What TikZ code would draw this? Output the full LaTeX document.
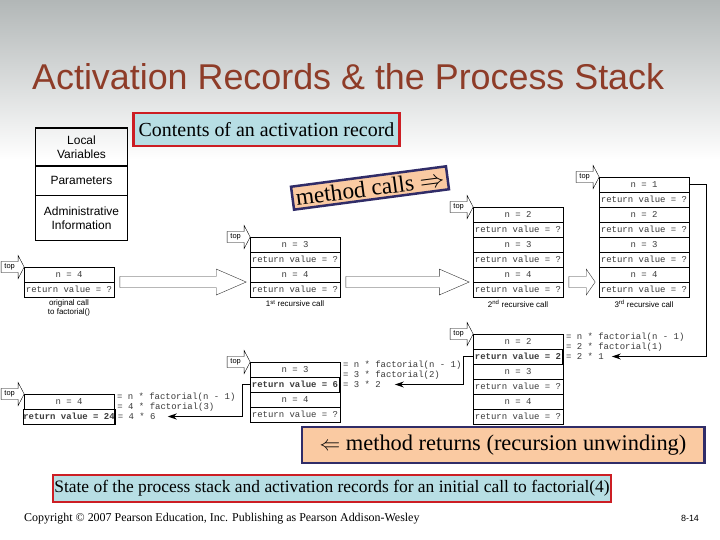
\documentclass[tikz,border=0pt]{standalone}
\usepackage{fontspec}
\setmainfont{Liberation Serif}
\setsansfont{Liberation Sans}
\setmonofont{Liberation Mono}
\usetikzlibrary{positioning,arrows.meta,calc}
\definecolor{Title}{RGB}{142,60,40}
\definecolor{Red}{RGB}{204,30,36}
\definecolor{Sky}{RGB}{183,222,228}
\definecolor{Peach}{RGB}{250,202,162}
\definecolor{Navy}{RGB}{48,44,104}
\definecolor{Ink}{RGB}{60,60,60}
\definecolor{Slide}{RGB}{178,183,183}

% one stack of records, rows listed top to bottom
\newcommand\stack[4]{\foreach \t [count=\i] in {#4}
  \node[r] (#1-\i) at (#2,{#3+15*\i-7.5}) {\t};}
% the little "top" pointer
\newcommand\toparrow[2]{%
  \draw[fill=white] (#2) -- ++(-6,-11.5) -- ++(0,6) -- ++(-17,0) -- ++(0,11) -- ++(17,0) -- ++(0,6) -- cycle;
  \path (#2) ++(-14.5,0) node[tp] (#1) {top};}
% hollow arrow between two stacks
\newcommand\callarrow[3][30]{%
  \draw[hollow] let \p1=(#2), \p2=(#3) in
    (\x1+6pt,\y1+5.5pt) -- (\x2-4pt-#1pt,\y1+5.5pt) -- (\x2-4pt-#1pt,\y1+13pt) -- (\x2-4pt,\y1)
    -- (\x2-4pt-#1pt,\y1-13pt) -- (\x2-4pt-#1pt,\y1-5.5pt) -- (\x1+6pt,\y1-5.5pt) -- cycle;}
% the three lines of working beside a returning record
\newcommand\sidecalc[4]{%
  \node[eqn] (#1e1) at ([xshift=3pt,yshift=4pt]#1-1.east) {#2};
  \node[eqn] (#1e3) at ([xshift=3pt]#1-2.east) {#4};
  \node[eqn] (#1e2) at ($(#1e1.west)!.5!(#1e3.west)$) {#3};}

\begin{document}
\begin{tikzpicture}[x=1bp,y=-1bp,
 r/.style={draw,minimum width=90,minimum height=15,inner sep=0,outer sep=0,font=\ttfamily\fontsize{9}{10}\selectfont,text=Ink},
 tp/.style={inner sep=0,font=\sffamily\fontsize{7.5}{8}\selectfont},
 hollow/.style={draw=black!80,fill=white},
 eqn/.style={anchor=west,inner sep=0,font=\ttfamily\fontsize{9}{10}\selectfont,text=Ink},
 lab/.style={inner sep=0,align=center,font=\sffamily\fontsize{8}{9}\selectfont},
 rec/.style={draw,line width=1.2,minimum width=93,inner sep=0,outer sep=0,align=center,font=\sffamily\fontsize{12}{14}\selectfont},
 capbox/.style={draw=Red,line width=2.5,fill=Sky,inner sep=0,font=\fontsize{20}{22}\selectfont},
 popbox/.style={draw=Navy,line width=2.5,fill=Peach,font=\fontsize{23.5}{26}\selectfont},
 ret/.style={line width=1.2,-{Stealth[length=9pt,width=6pt]}}]
\useasboundingbox (0,0) rectangle (720,540);
\fill[white] (0,0) rectangle (720,540);
\shade[top color=Slide,bottom color=white] (0,0) rectangle (720,160);

\node[anchor=base west,inner sep=0,text=Title,font=\sffamily\fontsize{36}{40}\selectfont] (title) at (32,90) {Activation Records \& the Process Stack};

% contents of one record
\node[rec,minimum height=38] (lv) at (81.5,147) {Local\\Variables};
\node[rec,minimum height=30,below=0pt of lv] (pa) {Parameters};
\node[rec,minimum height=45,below=0pt of pa] (ad) {Administrative\\Information};
\node[capbox,minimum width=267,minimum height=33] (cont) at (266.5,129.5) {Contents of an activation record};

% method calls
\stack{s0}{69}{267}{n = 4,return value = ?}
\stack{s1}{295}{237}{n = 3,return value = ?,n = 4,return value = ?}
\stack{s2}{518}{207}{n = 2,return value = ?,n = 3,return value = ?,n = 4,return value = ?}
\stack{s3}{644}{177}{n = 1,return value = ?,n = 2,return value = ?,n = 3,return value = ?,n = 4,return value = ?}
\toparrow{t0}{s0-1.north west}
\toparrow{t1}{s1-1.north west}
\toparrow{t2}{s2-1.north west}
\toparrow{t3}{s3-1.north west}
\callarrow{s0-2.north east}{s1-4.north west}
\callarrow{s1-4.north east}{s2-6.north west}
\callarrow[9]{s2-6.north east}{s3-8.north west}
\node[lab,below=3pt of s0-2] (l0) {original call\\to factorial()};
\node[lab,below=3pt of s1-4] (l1) {1\textsuperscript{st} recursive call};
\node[lab,below=3pt of s2-6] (l2) {2\textsuperscript{nd} recursive call};
\node[lab,below=3pt of s3-8] (l3) {3\textsuperscript{rd} recursive call};
\node[popbox,rotate=7.5] (calls) at (370,188) {method calls $\Rightarrow$};

% returns
\stack{b1}{69}{394}{n = 4,\textbf{return value = 24}}
\stack{b2}{295}{362}{n = 3,\textbf{return value = 6},n = 4,return value = ?}
\stack{b3}{518}{334}{n = 2,\textbf{return value = 2},n = 3,return value = ?,n = 4,return value = ?}
\draw[thick] (b1-2.north west) rectangle (b1-2.south east);
\draw[thick] (b2-2.north west) rectangle (b2-2.south east);
\draw[thick] (b3-2.north west) rectangle (b3-2.south east);
\toparrow{u1}{b1-1.north west}
\toparrow{u2}{b2-1.north west}
\toparrow{u3}{b3-1.north west}
\sidecalc{b1}{= n * factorial(n - 1)}{= 4 * factorial(3)}{= 4 * 6}
\sidecalc{b2}{= n * factorial(n - 1)}{= 3 * factorial(2)}{= 3 * 2}
\sidecalc{b3}{= n * factorial(n - 1)}{= 2 * factorial(1)}{= 2 * 1}
\draw[ret] (s3-1.east) -- ++(18,0) |- ([xshift=8pt]b3e3.east);
\draw[ret] (b3-2.west) -- ++(-10,0) |- ([xshift=14pt]b2e3.east);
\draw[ret] (b2-2.west) -- ++(-8,0) |- ([xshift=12pt]b1e3.east);
\node[popbox,minimum width=404,minimum height=36,inner sep=0,font=\fontsize{22.5}{25}\selectfont] (back) at (503,445) {$\Leftarrow$ method returns (recursion unwinding)};

\node[capbox,minimum width=560,minimum height=27,font=\fontsize{17.5}{19}\selectfont] (state) at (332,488.5) {State of the process stack and activation records for an initial call to factorial(4)};
\node[anchor=base west,inner sep=0,font=\fontsize{12}{14}\selectfont] (copy) at (24,521) {Copyright © 2007 Pearson Education, Inc. Publishing as Pearson Addison-Wesley};
\node[inner sep=0,font=\sffamily\fontsize{9}{10}\selectfont] (page) at (690,518) {8-14};
\end{tikzpicture}
\end{document}
